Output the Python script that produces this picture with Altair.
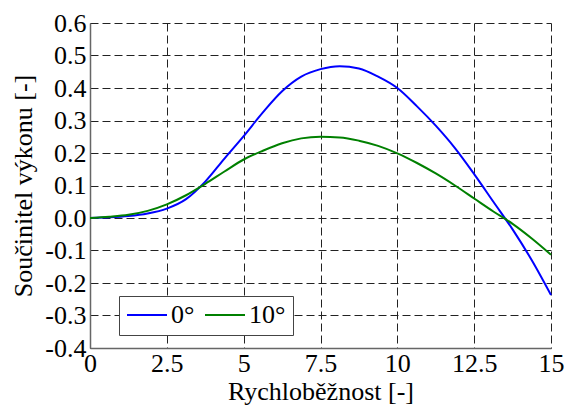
import altair as alt
import pandas as pd

# Tip speed ratio (x) sample positions
x_vals = [0, 0.625, 1.25, 1.875, 2.5, 3.125, 3.75, 4.375, 5, 5.625, 6.25, 6.875,
          7.5, 8.125, 8.75, 9.375, 10, 10.625, 11.25, 11.875, 12.5, 13.125,
          13.75, 14.375, 15]

# Power coefficient, pitch 0°
cp_0 = [0.0, 0.002, 0.006, 0.014, 0.029, 0.058, 0.112, 0.183, 0.252, 0.325, 0.39,
        0.435, 0.458, 0.467, 0.46, 0.435, 0.40, 0.345, 0.284, 0.215, 0.135,
        0.05, -0.035, -0.13, -0.237]

# Power coefficient, pitch 10°
cp_10 = [0.0, 0.004, 0.01, 0.022, 0.042, 0.07, 0.105, 0.143, 0.18, 0.207, 0.23,
         0.245, 0.25, 0.248, 0.238, 0.222, 0.199, 0.17, 0.137, 0.1, 0.06,
         0.02, -0.018, -0.063, -0.113]

series_names = ["0°", "10°"]
series_colors = ["#0000ff", "#008000"]

x_ticks = [0, 2.5, 5, 7.5, 10, 12.5, 15]
y_ticks = [round(-0.4 + 0.1 * i, 1) for i in range(11)]

rows = []
for name, ys in zip(series_names, [cp_0, cp_10]):
    for xv, yv in zip(x_vals, ys):
        rows.append({"x": xv, "y": yv, "s": name})
df = pd.DataFrame(rows)

FONT = "'Liberation Serif', 'DejaVu Serif', serif"

chart = alt.Chart(df).mark_line(strokeWidth=2, interpolate="monotone").encode(
    x=alt.X("x:Q",
            scale=alt.Scale(domain=[0, 15], nice=False, zero=False),
            axis=alt.Axis(values=x_ticks,
                          labelExpr="datum.value % 1 == 0 ? format(datum.value, 'd') : format(datum.value, '.1f')",
                          title="Rychloběžnost [-]",
                          labelFontSize=26, labelPadding=2, ticks=False,
                          titleFontSize=26, titleFontWeight="normal",
                          titleY=51, titleBaseline="alphabetic",
                          labelFont=FONT, titleFont=FONT,
                          labelFlush=False)),
    y=alt.Y("y:Q",
            scale=alt.Scale(domain=[-0.4, 0.6], nice=False, zero=False),
            axis=alt.Axis(values=y_ticks,
                          labelExpr="datum.value < -0.00001 ? '-' + format(-datum.value, '.1f') : format(abs(datum.value), '.1f')",
                          title="Součinitel výkonu [-]",
                          labelFontSize=26, labelPadding=4, ticks=False,
                          titleFontSize=26, titleFontWeight="normal",
                          titleX=-59, titleBaseline="alphabetic",
                          labelFont=FONT, titleFont=FONT,
                          labelFlush=False)),
    color=alt.Color("s:N",
                    scale=alt.Scale(domain=series_names, range=series_colors),
                    sort=series_names,
                    legend=alt.Legend(title=None, orient="none", legendX=29, legendY=273,
                                      direction="horizontal", fillColor="white",
                                      strokeColor="#444", padding=7,
                                      symbolType="stroke", symbolSize=1600,
                                      symbolStrokeWidth=2, labelFontSize=26,
                                      labelOffset=3, columnPadding=9,
                                      clipHeight=24, labelFont=FONT)),
).properties(
    width=461, height=325,
    autosize=alt.AutoSizeParams(type="none"),
    padding={"left": 90, "top": 23, "right": 15, "bottom": 57},
).configure(
    font=FONT,
).configure_view(
    stroke=None,
).configure_axis(
    labelColor="black", titleColor="black",
    domainColor="#666", domainWidth=1.5,
    gridColor="#222", gridDash=[8, 4], gridWidth=1, gridOpacity=1,
)

chart.save("out.html", embed_options={"renderer": "svg", "actions": False})
